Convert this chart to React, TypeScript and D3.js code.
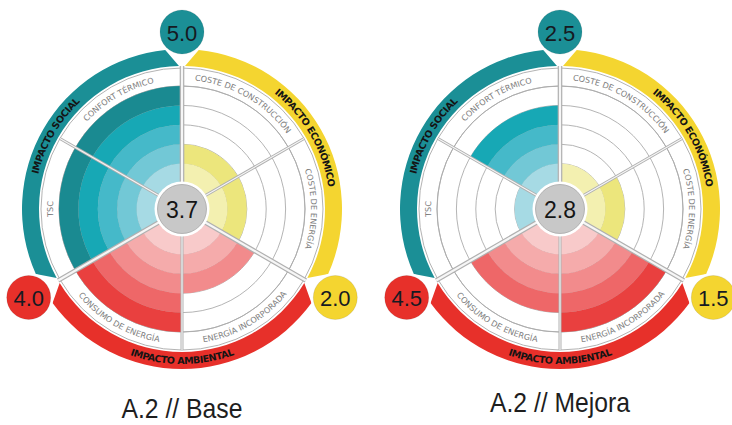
import React from "react";
import * as d3 from "d3";

// Indicators in clockwise order starting at 12 o'clock, 60° each
const indicators = [
  "COSTE DE CONSTRUCCIÓN",
  "COSTE DE ENERGÍA",
  "ENERGÍA INCORPORADA",
  "CONSUMO DE ENERGÍA",
  "TSC",
  "CONFORT TÉRMICO",
];
const indicatorGroup = [0, 0, 1, 1, 2, 2];
const groups = ["IMPACTO ECONÓMICO", "IMPACTO AMBIENTAL", "IMPACTO SOCIAL"];
const scenarioTitles = ["A.2 // Base", "A.2 // Mejora"];
const baseScores = [2, 2, 3, 5, 5, 5];
const mejoraScores = [1, 2, 5, 4, 1, 4];
const levels = [1, 2, 3, 4, 5];

// Palette: band colour and five ring shades (inner -> outer) per group
const groupColor = ["#f4d530", "#e7302a", "#1b8f96"];
const groupShades = [
  ["#f3f0b0", "#ece67c", "#e8dd57", "#e9d63b", "#f0d12a"],
  ["#f8caca", "#f5abab", "#f28b8c", "#ee6768", "#e9403f"],
  ["#a6dae4", "#72c8d6", "#45b9c9", "#17a8b5", "#1a8a91"],
];

const W = 732;
const H = 425;
const CY = 209;
const chartCx = [182, 560];
const titleY = [418, 412];
const titleWidth = [121, 140];

const R_HUB = 26;
const R_DATA = 123;
const R_LABEL = 141;
const R_BAND_IN = 143;
const R_BAND_OUT = 160;
const R_BADGE = 177;

const rScale = d3.scaleLinear().domain([0, 5]).range([R_HUB, R_DATA]);
const rad = (deg: number) => (deg * Math.PI) / 180;
const pt = (r: number, deg: number) => [r * Math.sin(rad(deg)), -r * Math.cos(rad(deg))];

const arcGen = d3.arc<any>();

function textArc(r: number, a0: number, a1: number, ccw: boolean) {
  if (!ccw) {
    const [x0, y0] = pt(r, a0);
    const [x1, y1] = pt(r, a1);
    return `M${x0},${y0} A${r},${r} 0 0 1 ${x1},${y1}`;
  }
  const [x0, y0] = pt(r, a1);
  const [x1, y1] = pt(r, a0);
  return `M${x0},${y0} A${r},${r} 0 0 0 ${x1},${y1}`;
}

function bandPath(a0: number, a1: number, padOut: number, padIn: number) {
  const [ox0, oy0] = pt(R_BAND_OUT, a0 + padOut);
  const [ox1, oy1] = pt(R_BAND_OUT, a1 - padOut);
  const [ix1, iy1] = pt(R_BAND_IN, a1 - padIn);
  const [ix0, iy0] = pt(R_BAND_IN, a0 + padIn);
  return `M${ox0},${oy0} A${R_BAND_OUT},${R_BAND_OUT} 0 0 1 ${ox1},${oy1} L${ix1},${iy1} A${R_BAND_IN},${R_BAND_IN} 0 0 0 ${ix0},${iy0} Z`;
}

function Rose({ id, cx, scores, title, ty, tw }: { id: string; cx: number; scores: number[]; title: string; ty: number; tw: number }) {
  const step = 360 / indicators.length;
  const groupSpan = 360 / groups.length;
  const overall = d3.mean(scores) as number;
  const groupMeans = groups.map((_, g) =>
    d3.mean(scores.filter((_, i) => indicatorGroup[i] === g)) as number
  );

  return (
    <g>
      <g transform={`translate(${cx},${CY})`}>
        {/* group bands */}
        {groups.map((name, g) => {
          const a0 = g * groupSpan;
          const a1 = a0 + groupSpan;
          const mid = (a0 + a1) / 2;
          const ccw = mid > 90 && mid < 270;
          const rMid = (R_BAND_IN + R_BAND_OUT) / 2;
          const rText = ccw ? rMid + 3.5 : rMid - 3.5;
          return (
            <g key={name}>
              <path d={bandPath(a0, a1, 6, 1.2)} fill={groupColor[g]} />
              <path id={`${id}-g${g}`} d={textArc(rText, a0 + 2, a1 - 2, ccw)} fill="none" />
              <text fontFamily="'DejaVu Sans', sans-serif" fontWeight={700} fontSize={9.6} letterSpacing={-0.45} fill="#141414">
                <textPath href={`#${id}-g${g}`} startOffset="50%" textAnchor="middle">
                  {name}
                </textPath>
              </text>
            </g>
          );
        })}

        {/* label ring segments */}
        {indicators.map((name, i) => (
          <path
            key={name}
            d={arcGen({ innerRadius: R_DATA, outerRadius: R_LABEL, startAngle: rad(i * step), endAngle: rad((i + 1) * step) }) as string}
            fill="#fff"
            stroke="#a0a0a0"
            strokeWidth={0.8}
          />
        ))}

        {/* level grid */}
        {levels.map((l) => (
          <circle key={l} r={rScale(l)} fill="none" stroke="#ababab" strokeWidth={0.9} />
        ))}

        {/* filled rings */}
        {scores.map((v, i) =>
          levels
            .filter((l) => l <= v)
            .map((l) => (
              <path
                key={`${i}-${l}`}
                d={arcGen({
                  innerRadius: rScale(l - 1),
                  outerRadius: rScale(l),
                  startAngle: rad(i * step),
                  endAngle: rad((i + 1) * step),
                }) as string}
                fill={groupShades[indicatorGroup[i]][l - 1]}
              />
            ))
        )}

        {/* spokes */}
        {indicators.map((_, i) => {
          const a = i * step;
          const major = i % 2 === 0;
          const [x, y] = pt(major ? R_BAND_IN : R_LABEL, a);
          return (
            <g key={i}>
              <line x1={0} y1={0} x2={x} y2={y} stroke="#b0b0b0" strokeWidth={major ? 4.6 : 3} />
              <line x1={0} y1={0} x2={x} y2={y} stroke="#f6f6f6" strokeWidth={major ? 2.2 : 1.1} />
            </g>
          );
        })}

        {/* indicator labels */}
        {indicators.map((name, i) => {
          const a0 = i * step;
          const a1 = a0 + step;
          const mid = (a0 + a1) / 2;
          const ccw = mid > 90 && mid < 270;
          const rMid = (R_DATA + R_LABEL) / 2;
          const rText = ccw ? rMid + 3 : rMid - 3;
          return (
            <g key={name}>
              <path id={`${id}-s${i}`} d={textArc(rText, a0, a1, ccw)} fill="none" />
              <text fontFamily="'DejaVu Sans', sans-serif" fontSize={8.1} letterSpacing={0} fill="#7e7e7e">
                <textPath href={`#${id}-s${i}`} startOffset="50%" textAnchor="middle">
                  {name}
                </textPath>
              </text>
            </g>
          );
        })}

        {/* hub */}
        <circle r={27.5} fill="#fff" />
        <circle r={24.5} fill="#c8c8c8" stroke="#a8a8a8" strokeWidth={0.8} />
        <text
          y={1}
          textAnchor="middle"
          dominantBaseline="central"
          fontFamily="'Liberation Sans', Arial, sans-serif"
          fontSize={23}
          fill="#151515"
        >
          {overall.toFixed(1)}
        </text>

        {/* group score badges at the end of each band */}
        {groups.map((name, g) => {
          const [x, y] = pt(R_BADGE, (g + 1) * groupSpan);
          return (
            <g key={name} transform={`translate(${x},${y})`}>
              <circle r={24.5} fill="#fff" />
              <circle r={22} fill={groupColor[g]} stroke="rgba(0,0,0,0.12)" strokeWidth={0.8} />
              <text
                y={1}
                textAnchor="middle"
                dominantBaseline="central"
                fontFamily="'Liberation Sans', Arial, sans-serif"
                fontSize={22}
                fill="#161a22"
              >
                {groupMeans[g].toFixed(1)}
              </text>
            </g>
          );
        })}
      </g>

      <text
        x={cx}
        y={ty}
        textAnchor="middle"
        fontFamily="'Liberation Sans', Arial, sans-serif"
        fontSize={28}
        textLength={tw}
        lengthAdjust="spacingAndGlyphs"
        fill="#1e1e1e"
      >
        {title}
      </text>
    </g>
  );
}

export default function App() {
  const series = [baseScores, mejoraScores];
  return (
    <svg
      width={W}
      height={H}
      viewBox={`0 0 ${W} ${H}`}
      style={{ position: "absolute", left: 0, top: 0, background: "#fff" }}
    >
      <rect width={W} height={H} fill="#fff" />
      {series.map((s, k) => (
        <Rose key={k} id={`rose${k}`} cx={chartCx[k]} scores={s} title={scenarioTitles[k]} ty={titleY[k]} tw={titleWidth[k]} />
      ))}
    </svg>
  );
}
